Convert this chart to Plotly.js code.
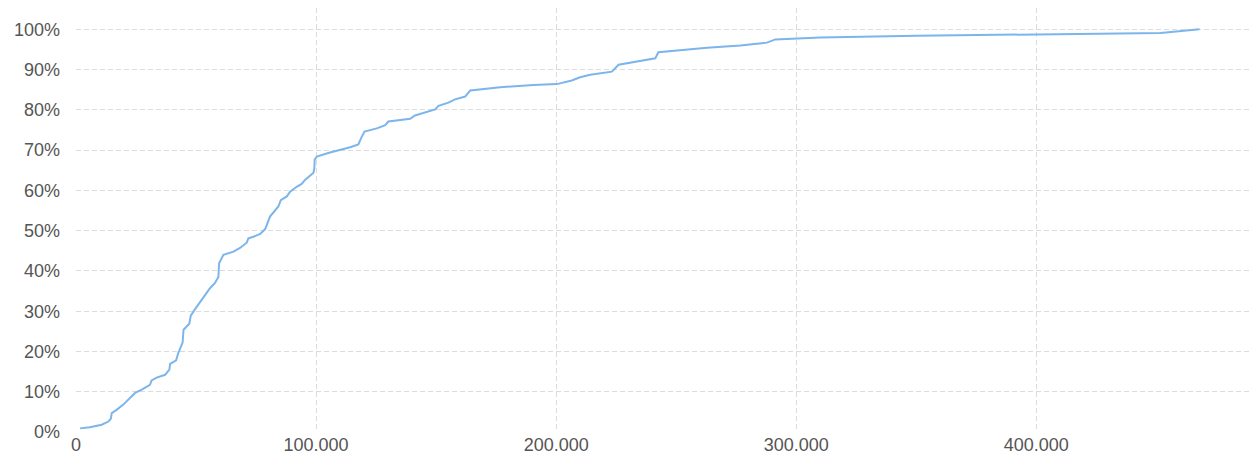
<!DOCTYPE html>
<html>
<head>
<meta charset="utf-8">
<script src="https://cdn.plot.ly/plotly-3.0.1.min.js"></script>
<style>html,body{margin:0;padding:0;background:#fff;}#chart{width:1250px;height:454px;}</style>
</head>
<body>
<div id="chart"></div>
<script>
// Cumulative share (fraction) by value
const amounts = [1700, 5800, 10700, 13500, 14500, 14900, 16900, 19700, 24600, 27400, 30800, 31500, 33600, 37100, 38900, 39200, 41700, 42600, 44400, 44800, 47200, 47800, 49600, 53000, 55100, 55800, 57900, 59300, 59600, 61400, 65600, 68300, 71100, 71800, 73900, 76700, 78800, 80100, 80800, 84300, 85300, 87800, 89200, 91900, 94000, 95400, 98900, 99300, 99400, 100300, 105800, 114200, 117600, 119000, 120200, 125300, 128800, 130100, 135000, 139200, 141200, 149600, 151000, 155100, 157900, 162100, 164200, 176700, 190500, 200300, 206500, 210000, 214200, 223200, 226000, 230800, 241300, 242600, 248900, 262800, 276700, 287800, 291300, 300300, 310000, 350000, 385000, 399000, 426700, 451700, 457200, 468000];
const cumShare = [0.009, 0.012, 0.018, 0.026, 0.033, 0.047, 0.055, 0.068, 0.097, 0.105, 0.117, 0.128, 0.135, 0.142, 0.155, 0.169, 0.178, 0.196, 0.222, 0.254, 0.269, 0.289, 0.305, 0.332, 0.349, 0.357, 0.370, 0.385, 0.419, 0.440, 0.448, 0.457, 0.470, 0.481, 0.485, 0.492, 0.504, 0.527, 0.535, 0.560, 0.576, 0.585, 0.597, 0.609, 0.616, 0.626, 0.644, 0.655, 0.676, 0.684, 0.694, 0.707, 0.714, 0.733, 0.746, 0.754, 0.762, 0.771, 0.775, 0.778, 0.786, 0.801, 0.810, 0.818, 0.826, 0.833, 0.848, 0.856, 0.862, 0.864, 0.873, 0.881, 0.887, 0.895, 0.912, 0.917, 0.928, 0.943, 0.947, 0.954, 0.960, 0.967, 0.975, 0.977, 0.980, 0.984, 0.987, 0.988, 0.990, 0.991, 0.994, 1.000];
const xTickVals = [0, 100000, 200000, 300000, 400000];
const yTickVals = [0, 0.1, 0.2, 0.3, 0.4, 0.5, 0.6, 0.7, 0.8, 0.9, 1.0];

const trace = {
  x: amounts, y: cumShare, type: 'scatter', mode: 'lines',
  line: {color: '#7cb5ec', width: 2},
  hoverinfo: 'x+y'
};
const gridStyle = {gridcolor: '#dcdcdc', gridwidth: 1, griddash: '5px,3px'};
const layout = {
  width: 1250, height: 454,
  margin: {l: 76, r: 0, t: 8, b: 22, pad: 0},
  paper_bgcolor: '#fff', plot_bgcolor: '#fff',
  separators: ',.',
  showlegend: false,
  font: {family: 'Liberation Sans, Arial, sans-serif', size: 18, color: '#555'},
  xaxis: Object.assign({
    range: [0, 489000], tickvals: xTickVals, tickformat: ',d',
    showgrid: true, zeroline: false, showline: false, ticks: '',
    automargin: false, fixedrange: true
  }, gridStyle),
  yaxis: Object.assign({
    range: [0, 1.053], tickvals: yTickVals, tickformat: '.0%',
    showgrid: true, zeroline: false, showline: false, ticks: '',
    ticklabelstandoff: 15, automargin: false, fixedrange: true
  }, gridStyle)
};
Plotly.newPlot('chart', [trace], layout, {displayModeBar: false, staticPlot: true});
</script>
</body>
</html>
